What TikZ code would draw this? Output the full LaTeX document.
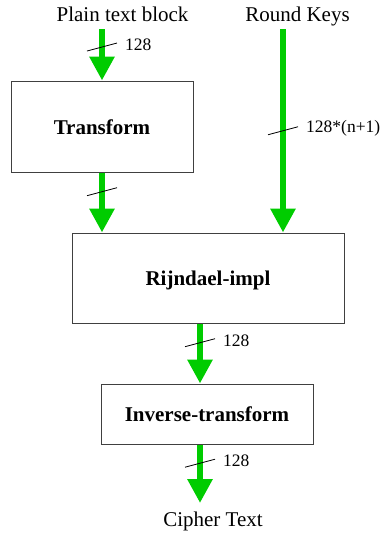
\documentclass[tikz,border=0pt]{standalone}
\usepackage{fontspec}
\setmainfont{Liberation Serif}
\usetikzlibrary{arrows.meta}
\definecolor{verde}{RGB}{0,204,0}

\begin{document}
\begin{tikzpicture}[x=1pt,y=-1pt]
	% formatos
	\tikzstyle{every node}=[inner sep=0pt, font=\fontsize{21}{25}\selectfont]
	\tikzstyle{bloque}=[draw=black!75, line width=1pt, font=\fontsize{21}{25}\selectfont\bfseries, text height=15pt, text depth=0pt]
	\tikzstyle{flecha}=[verde, line width=6pt, -{Triangle[width=24pt,length=24pt]}]
	\tikzstyle{bus}=[black, line width=0.8pt]
	\tikzstyle{ancho}=[anchor=west, font=\fontsize{17.5}{20}\selectfont]
	\useasboundingbox (0,0) rectangle (381,536);
	% nodos
	\node [anchor=base] (plano) at (122.5,21.7) {Plain text block};
	\node [anchor=base] (claves) at (297.5,21.7) {Round Keys};
	\node [bloque, minimum width=182pt, minimum height=91pt] (T) at (102,126.5) {Transform};
	\node [bloque, minimum width=272pt, minimum height=90pt] (R) at (208,278) {Rijndael-impl};
	\node [bloque, minimum width=212pt, minimum height=60pt] (I) at (207,414) {Inverse-transform};
	\node [anchor=base] (cifrado) at (213,526) {Cipher Text};
	\coordinate (inA) at (102,29);
	\coordinate (inK) at (283,29);
	\coordinate (outC) at (200,503);
	% flechas
	\draw [flecha] (inA) -- coordinate[pos=0.35] (b1) (T);
	\draw [flecha] (T.south) -- coordinate[pos=0.32] (b2) (T.south |- R.north);
	\draw [flecha] (inK) -- coordinate[pos=0.5] (b3) (inK |- R.north);
	\draw [flecha] ([xshift=-8pt]R.south) -- coordinate[pos=0.32] (b4) ([xshift=-8pt]R.south |- I.north);
	\draw [flecha] ([xshift=-7pt]I.south) -- coordinate[pos=0.32] (b5) (outC);
	% ancho de bus
	\foreach \b in {b1,b2,b3,b4,b5}
		\draw [bus] ([shift={(-15,4)}]\b) -- ([shift={(15,-4)}]\b);
	\foreach \b/\lbl in {b1/128, b3/128*(n+1), b4/128, b5/128}
		\node [ancho] (w\b) at ([shift={(23,-2)}]\b) {\lbl};
\end{tikzpicture}
\end{document}
